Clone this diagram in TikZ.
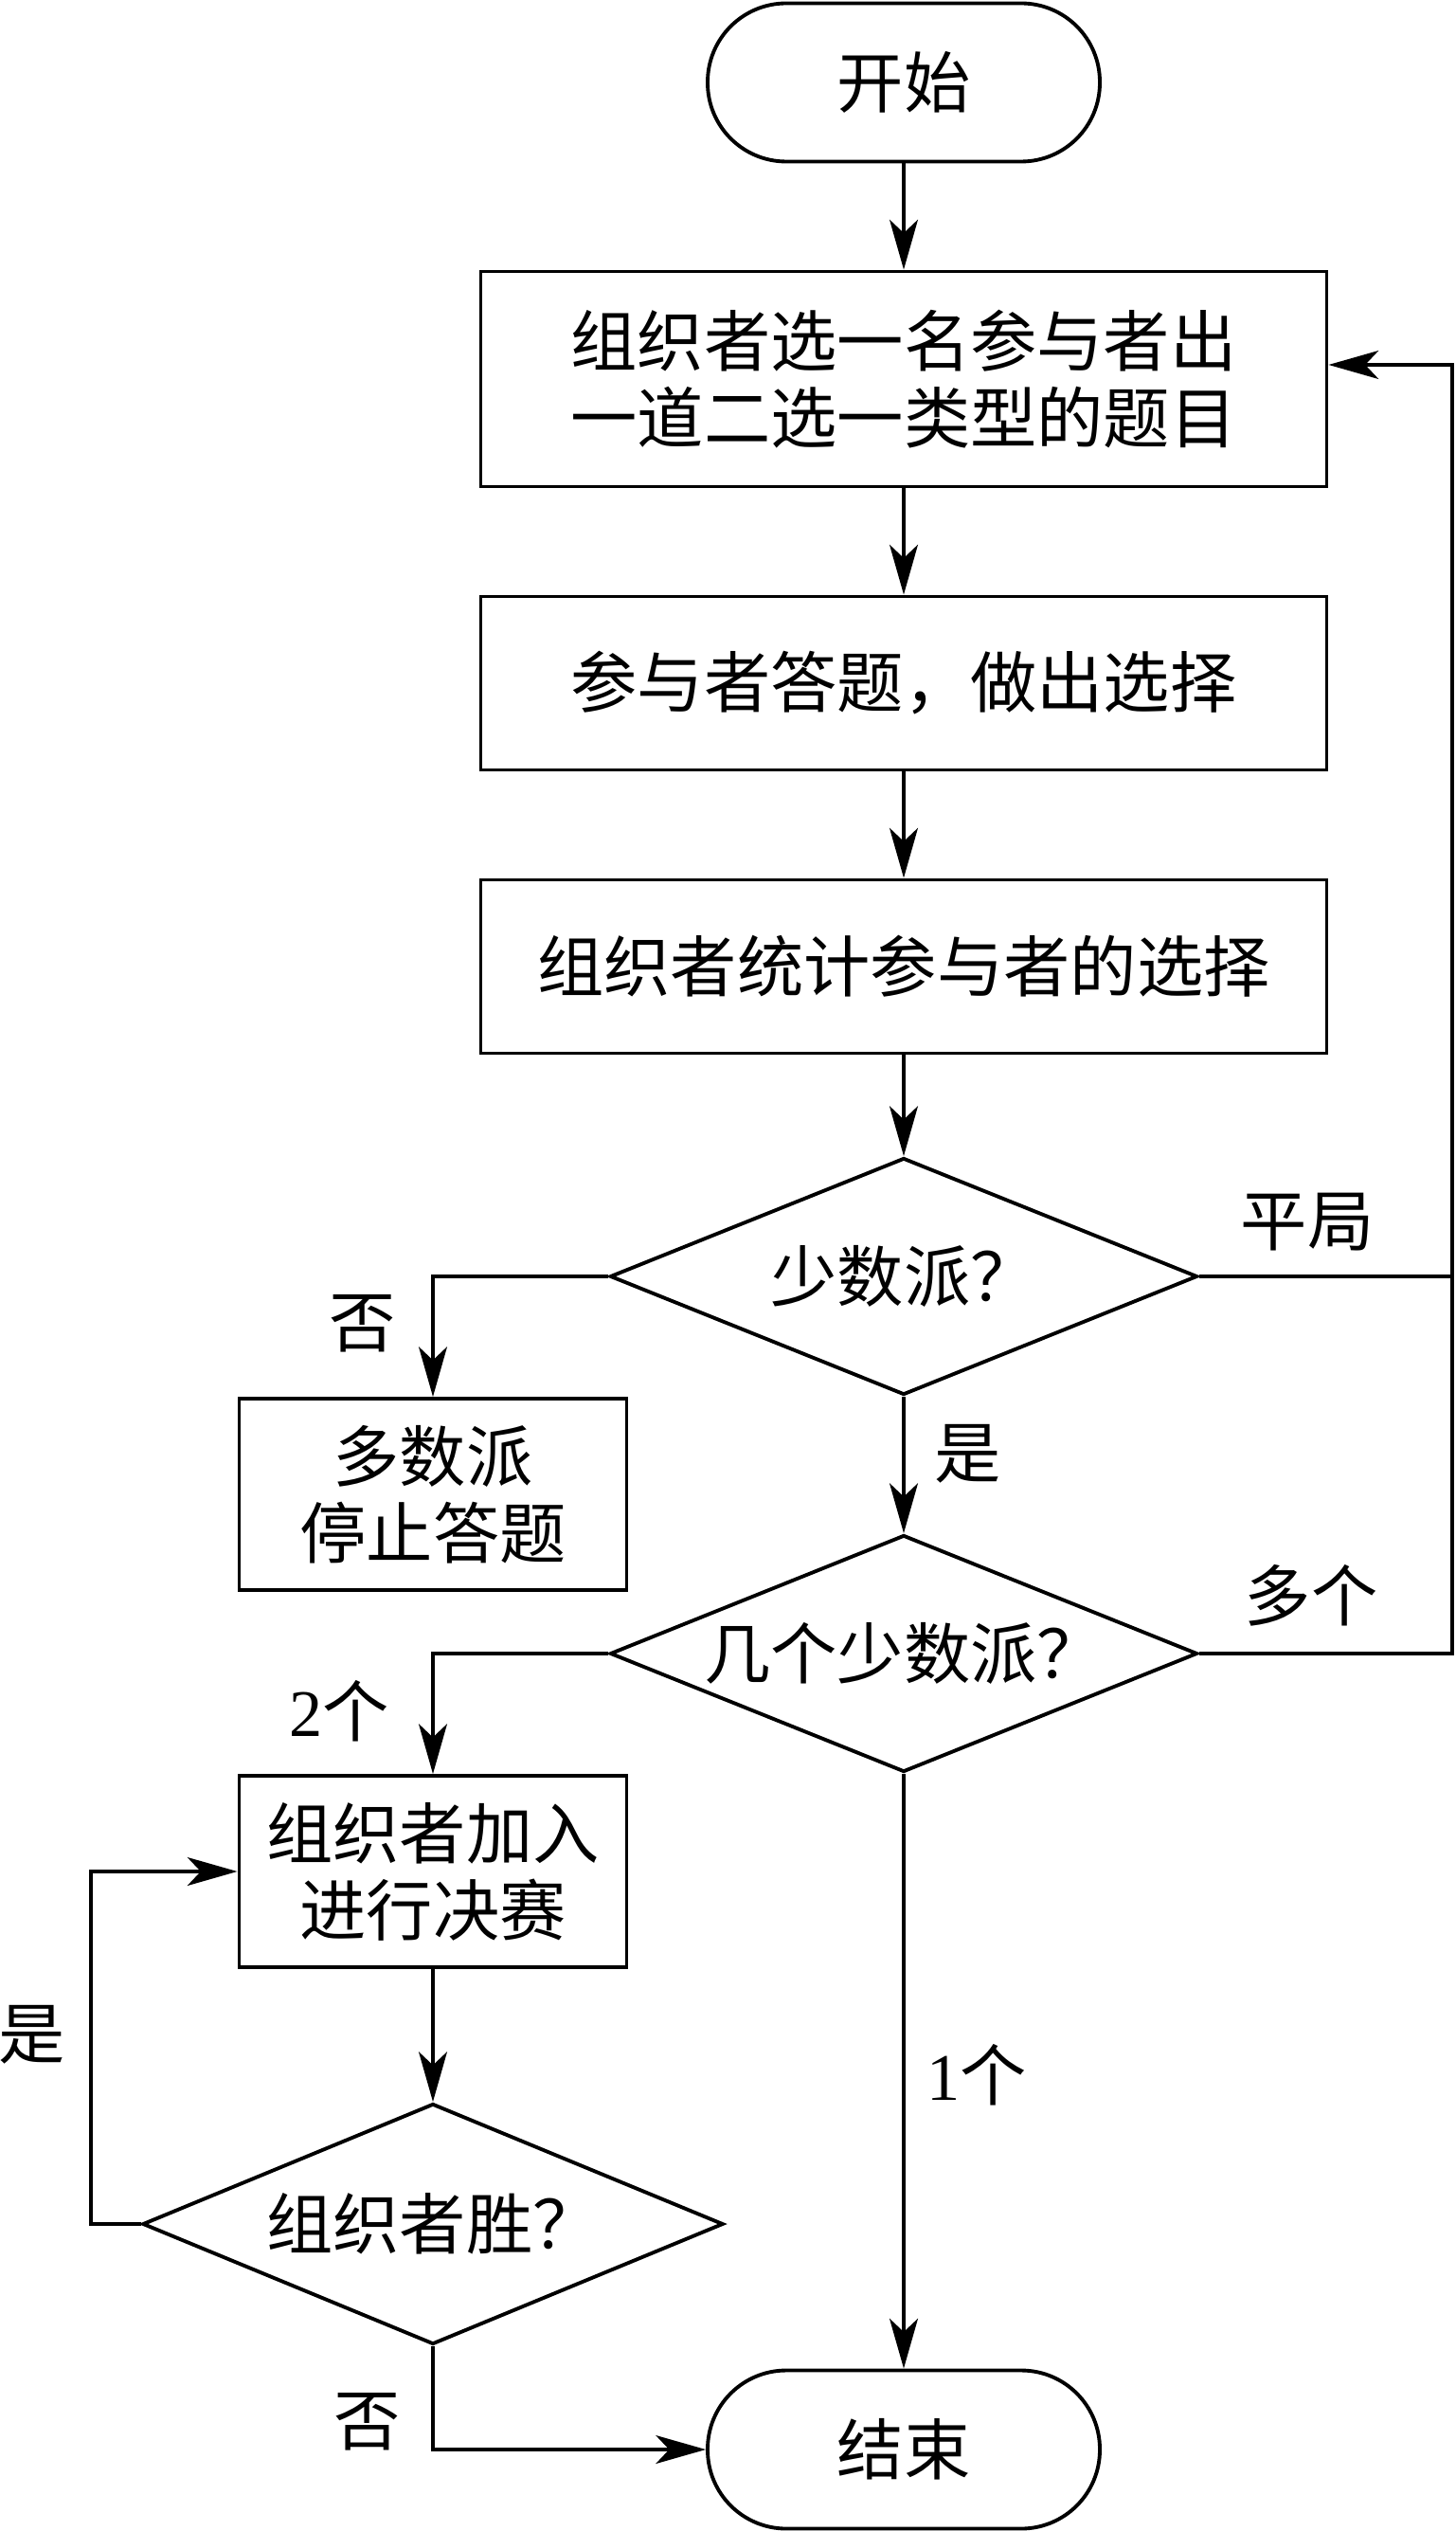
\documentclass[tikz,border=0pt]{standalone}
\usepackage{fontspec}
\setmainfont{Liberation Serif}
\newfontfamily\cjk{Noto Sans CJK SC}
\usetikzlibrary{shapes.geometric,arrows.meta}

\begin{document}
\begin{tikzpicture}[
  line width=1.1pt,
  >={Stealth[length=15pt,width=8.5pt,inset=4pt]},
  every node/.style={font=\cjk\fontsize{20}{23}\selectfont, align=center},
  term/.style={draw, rectangle, rounded corners=0.83cm, minimum width=4.14cm, minimum height=1.67cm},
  proc/.style={draw, rectangle, minimum width=8.93cm, minimum height=#1},
  proc/.default=1.83cm,
  sbox/.style={draw, rectangle, minimum width=4.09cm, minimum height=2.02cm},
  dec/.style={draw, diamond, shape aspect=2.45, inner sep=0pt, minimum width=6.2cm, minimum height=2.5cm},
  lab/.style={inner sep=0pt}
]

\useasboundingbox (0,0) rectangle (15.37,-26.71);

\def\cx{9.54}
\def\lx{4.57}
\def\rx{15.33}

\node[term] (start) at (\cx,-0.87) {开始};
\node[proc=2.27cm] (ask) at (\cx,-4.0) {组织者选一名参与者出\\一道二选一类型的题目};
\node[proc] (answer) at (\cx,-7.21) {参与者答题，做出选择};
\node[proc] (count) at (\cx,-10.2) {组织者统计参与者的选择};
\node[dec] (minor) at (\cx,-13.47) {少数派？};
\node[sbox] (stop) at (\lx,-15.77) {多数派\\停止答题};
\node[dec] (howmany) at (\cx,-17.45) {几个少数派？};
\node[sbox] (final) at (\lx,-19.75) {组织者加入\\进行决赛};
\node[dec, minimum width=6.13cm, minimum height=2.54cm] (win) at (\lx,-23.47) {组织者胜？};
\node[term] (end) at (\cx,-25.85) {结束};

% main column
\draw[->] (start) -- (ask);
\draw[->] (ask) -- (answer);
\draw[->] (answer) -- (count);
\draw[->] (count) -- (minor);
\draw[->] (minor.south) -- (howmany.north);
\draw[->] (howmany.south) -- (end.north);

% back to the question
\coordinate (rloop) at (\rx,-13.47);
\draw[->] (minor.east) -- (rloop) |- ([yshift=0.15cm]ask.east);
\draw (howmany.east) -| (rloop);

\draw[->] (minor.west) -| (stop.north);
\draw[->] (howmany.west) -| (final.north);
\draw[->] (final) -- (win);
\draw[->] (win.west) -- ++(-0.53,0) |- (final.west);
\draw[->] (win.south) |- (end.west);

\node[lab] (l-tie) at (13.80,-12.90) {平局};
\node[lab] (l-no1) at (3.83,-13.97) {否};
\node[lab] (l-yes1) at (10.22,-15.34) {是};
\node[lab] (l-many) at (13.84,-16.84) {多个};
\node[lab] (l-two) at (3.58,-18.06) {{\rmfamily 2}个};
\node[lab] (l-yes2) at (0.34,-21.47) {是};
\node[lab] (l-one) at (10.31,-21.90) {{\rmfamily 1}个};
\node[lab] (l-no2) at (3.88,-25.56) {否};
\end{tikzpicture}
\end{document}
